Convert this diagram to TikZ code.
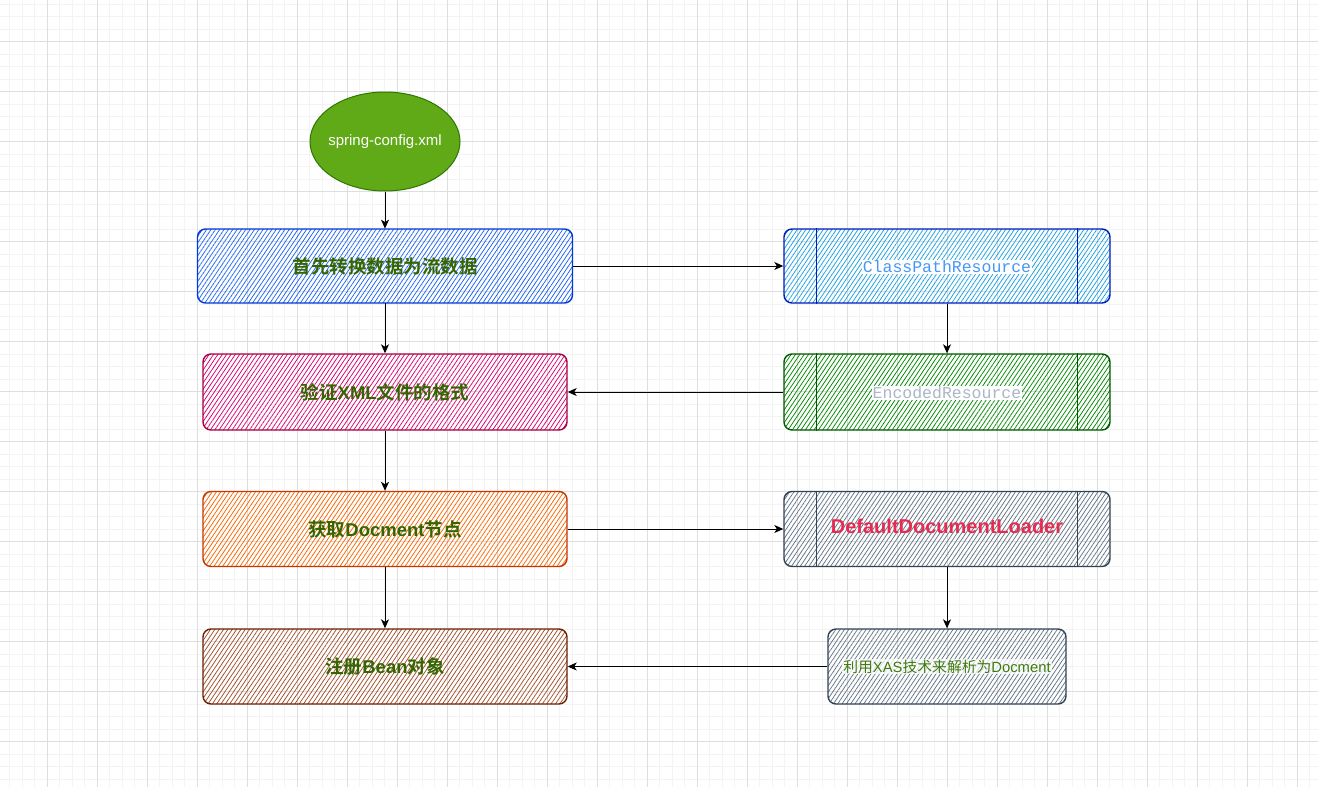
\documentclass[tikz,border=0pt]{standalone}
\usepackage{fontspec}
\setmainfont{Liberation Sans}
\newfontfamily\cjk{Noto Sans CJK SC}[BoldFont={Noto Sans CJK SC Bold}]
\newfontfamily\monof{Liberation Mono}
\usetikzlibrary{patterns.meta,arrows.meta,shapes.geometric}
\newcommand\zh[1]{{\cjk #1}}
\definecolor{gridminor}{HTML}{F3F3F3}
\definecolor{gridmajor}{HTML}{DEDEDE}
\definecolor{txtgreen}{HTML}{336600}
\definecolor{elfill}{HTML}{60A917}
\definecolor{elstroke}{HTML}{2D7600}
\definecolor{bluestroke}{HTML}{0039D6}
\definecolor{bluefill}{HTML}{1F66F0}
\definecolor{pinkstroke}{HTML}{A50040}
\definecolor{pinkfill}{HTML}{D80073}
\definecolor{orstroke}{HTML}{C73500}
\definecolor{orfill}{HTML}{FA6800}
\definecolor{brstroke}{HTML}{6D1F00}
\definecolor{brfill}{HTML}{A0522D}
\definecolor{lbstroke}{HTML}{001DBC}
\definecolor{lbfill}{HTML}{1BA1E2}
\definecolor{grstroke}{HTML}{005700}
\definecolor{grfill}{HTML}{008A00}
\definecolor{slstroke}{HTML}{314354}
\definecolor{slfill}{HTML}{647687}
\definecolor{cprcol}{HTML}{4797F5}
\definecolor{enccol}{HTML}{A9B7C6}
\definecolor{ddlcol}{HTML}{E62A50}
\definecolor{xascol}{HTML}{3F7A10}
\begin{document}
\begin{tikzpicture}[x=1pt,y=-1pt,
  box/.style={draw=#1stroke, line width=1.4pt, rounded corners=8pt, inner sep=0pt,
    pattern={Lines[angle=56,distance=3.6pt,line width=0.75pt]}, pattern color=#1fill},
  zhlabel/.style={text=txtgreen, font=\bfseries\fontsize{18.5}{22}\selectfont, inner sep=1pt},
  conn/.style={draw=black, line width=0.9pt, -{Stealth[length=9pt,width=8pt,inset=2.5pt]}},
  sep/.style={draw=#1stroke, line width=1.3pt}
]
\useasboundingbox (0,0) rectangle (1318,787);
\fill[white] (0,0) rectangle (1318,787);
% grid
\foreach \i in {0,...,106} {
  \draw[gridminor, line width=0.6pt] (-3+12.5*\i,0) -- (-3+12.5*\i,787);
}
\foreach \i in {0,...,63} {
  \draw[gridminor, line width=0.6pt] (0,-8.7+12.5*\i) -- (1318,-8.7+12.5*\i);
}
\foreach \i in {0,...,27} {
  \draw[gridmajor, line width=0.8pt] (-3+50*\i,0) -- (-3+50*\i,787);
}
\foreach \i in {0,...,16} {
  \draw[gridmajor, line width=0.8pt] (0,-8.7+50*\i) -- (1318,-8.7+50*\i);
}

% start ellipse
\node[ellipse, draw=elstroke, fill=elfill, line width=1pt, minimum width=150pt, minimum height=99pt, inner sep=0pt] (start) at (385,141.5) {};
\node[text=white, font=\fontsize{15}{18}\selectfont, inner sep=0pt] (ts) at (start.center) {spring-config.xml};

% left column
\node[box=blue, minimum width=375pt, minimum height=74pt] (b1) at (385,266) {};
\node[zhlabel] (t1) at (b1.center) {\zh{首先转换数据为流数据}};
\node[box=pink, minimum width=364pt, minimum height=76pt] (b2) at (385,392) {};
\node[zhlabel] (t2) at (b2.center) {\zh{验证}XML\zh{文件的格式}};
\node[box=or, minimum width=364pt, minimum height=75pt] (b3) at (385,529) {};
\node[zhlabel] (t3) at (b3.center) {\zh{获取}Docment\zh{节点}};
\node[box=br, minimum width=364pt, minimum height=75pt] (b4) at (385,666.5) {};
\node[zhlabel] (t4) at (b4.center) {\zh{注册}Bean\zh{对象}};

% right column
\node[box=lb, minimum width=326pt, minimum height=74pt] (r1) at (947,266) {};
\draw[sep=lb] ([xshift=33pt]r1.north west) -- ([xshift=33pt]r1.south west);
\draw[sep=lb] ([xshift=-33pt]r1.north east) -- ([xshift=-33pt]r1.south east);
\node[fill=white, text=cprcol, font=\monof\fontsize{16.5}{19}\selectfont, inner sep=1pt] (tr1) at (947,267) {ClassPathResource};

\node[box=gr, minimum width=326pt, minimum height=76pt] (r2) at (947,392) {};
\draw[sep=gr] ([xshift=33pt]r2.north west) -- ([xshift=33pt]r2.south west);
\draw[sep=gr] ([xshift=-33pt]r2.north east) -- ([xshift=-33pt]r2.south east);
\node[fill=white, text=enccol, font=\monof\fontsize{16.5}{19}\selectfont, inner sep=1pt] (tr2) at (947,393) {EncodedResource};

\node[box=sl, minimum width=326pt, minimum height=75pt] (r3) at (947,529) {};
\draw[sep=sl] ([xshift=33pt]r3.north west) -- ([xshift=33pt]r3.south west);
\draw[sep=sl] ([xshift=-33pt]r3.north east) -- ([xshift=-33pt]r3.south east);
\node[text=ddlcol, font=\bfseries\fontsize{20}{24}\selectfont, inner sep=1pt] (tr3) at (947,526) {DefaultDocumentLoader};

\node[box=sl, minimum width=238pt, minimum height=75pt] (r4) at (947,666.5) {};
\node[fill=white, fill opacity=0.75, text opacity=1, text=xascol, font=\fontsize{14.8}{18}\selectfont, inner sep=1pt] (tr4) at (r4.center) {\zh{利用}XAS\zh{技术来解析为}Docment};

% connectors
\draw[conn] (start.south) -- (b1.north);
\draw[conn] (b1.east) -- (r1.west);
\draw[conn] (b1.south) -- (b2.north);
\draw[conn] (r1.south) -- (r2.north);
\draw[conn] (r2.west) -- (b2.east);
\draw[conn] (b2.south) -- (b3.north);
\draw[conn] (b3.east) -- (r3.west);
\draw[conn] (r3.south) -- (r4.north);
\draw[conn] (r4.west) -- (b4.east);
\draw[conn] (b3.south) -- (b4.north);
\end{tikzpicture}
\end{document}
